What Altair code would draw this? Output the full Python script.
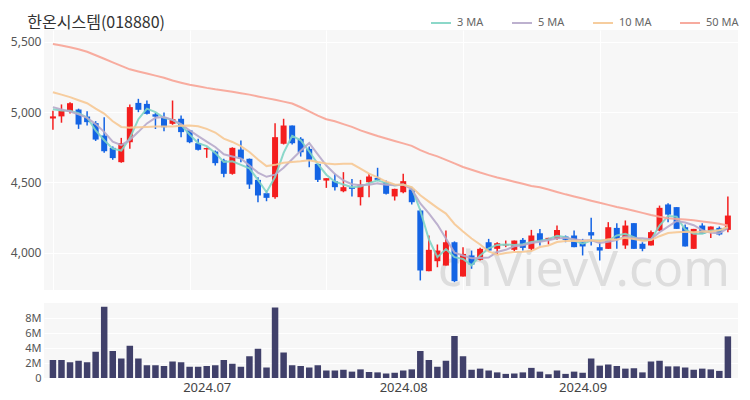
import altair as alt
import pandas as pd

# ---------------- data ----------------
opens = [4955, 4970, 5007, 5019, 4969, 4922, 4834, 4746, 4644, 4786,
         5066, 5059, 4985, 4962, 4917, 4953, 4870, 4779, 4735, 4720,
         4656, 4561, 4734, 4668, 4518, 4423, 4395, 4775, 4905, 4810,
         4739, 4632, 4513, 4509, 4437, 4466, 4395, 4501, 4532, 4502,
         4400, 4430, 4450, 4300, 3868, 3939, 3908, 4074, 3830, 3980,
         3949, 4074, 4027, 4051, 4020, 4091, 4027, 4138, 4091, 4098,
         4115, 4122, 4082, 4146, 4039, 4027, 4176, 4051, 4210, 4063,
         4051, 4157, 4343, 4324, 4181, 4027, 4193, 4157, 4176, 4162]
highs = [5010, 5055, 5071, 5025, 5007, 4936, 4964, 4756, 4817, 5055,
         5095, 5083, 4995, 4998, 5083, 4976, 4874, 4810, 4748, 4727,
         4668, 4750, 4798, 4670, 4537, 4442, 4922, 4953, 4905, 4822,
         4756, 4632, 4530, 4561, 4573, 4525, 4518, 4561, 4604, 4513,
         4455, 4561, 4454, 4312, 4122, 4058, 4157, 4080, 4039, 4015,
         4034, 4098, 4074, 4086, 4086, 4105, 4162, 4169, 4106, 4193,
         4122, 4157, 4098, 4248, 4074, 4217, 4210, 4229, 4210, 4074,
         4157, 4335, 4352, 4324, 4200, 4169, 4210, 4186, 4186, 4400]
lows = [4875, 4925, 4990, 4881, 4905, 4795, 4711, 4661, 4640, 4739,
        5000, 4983, 4880, 4865, 4910, 4822, 4779, 4727, 4675, 4620,
        4537, 4555, 4644, 4454, 4359, 4366, 4383, 4770, 4770, 4684,
        4608, 4502, 4461, 4442, 4430, 4400, 4336, 4395, 4509, 4414,
        4371, 4423, 4343, 3802, 3868, 3896, 3908, 3790, 3830, 3885,
        3944, 4008, 3991, 4039, 4010, 4015, 4015, 4051, 4058, 4091,
        4074, 4039, 3980, 4051, 3944, 4027, 4027, 4027, 4027, 4010,
        4051, 4153, 4217, 4169, 4044, 4027, 4134, 4105, 4122, 4146]
closes = [4970, 5010, 5064, 4912, 4929, 4805, 4722, 4673, 4779, 5036,
          5017, 4988, 4968, 4893, 4950, 4858, 4786, 4732, 4745, 4637,
          4561, 4746, 4668, 4485, 4407, 4390, 4822, 4905, 4779, 4715,
          4661, 4518, 4530, 4466, 4466, 4454, 4485, 4542, 4518, 4419,
          4454, 4509, 4359, 3873, 4020, 4015, 4074, 3797, 3991, 3915,
          4027, 4015, 4067, 4058, 4086, 4034, 4122, 4082, 4105, 4162,
          4091, 4039, 4044, 4122, 4015, 4181, 4098, 4193, 4027, 4027,
          4146, 4319, 4271, 4169, 4044, 4169, 4134, 4186, 4129, 4264]
volumes = [2400000, 2400000, 2100000, 2300000, 2100000, 3500000, 9500000, 3600000, 2600000, 4300000,
           2600000, 1700000, 1700000, 1600000, 2200000, 2100000, 1500000, 1500000, 1600000, 1700000,
           2400000, 1900000, 1500000, 2900000, 3900000, 1400000, 9400000, 3400000, 1700000, 1600000,
           1400000, 1700000, 1000000, 1000000, 1100000, 850000, 1150000, 800000, 750000, 600000,
           700000, 1000000, 1150000, 3600000, 2400000, 1500000, 2300000, 5600000, 2900000, 1100000,
           1250000, 1000000, 750000, 550000, 600000, 750000, 1350000, 850000, 500000, 1000000,
           550000, 850000, 700000, 2600000, 1650000, 1800000, 1600000, 1250000, 1300000, 750000,
           2200000, 2300000, 1550000, 1550000, 1400000, 1100000, 1250000, 1150000, 950000, 5550000]
ma3 = [5020, 5012, 5010, 4992, 4962, 4870, 4800, 4740, 4727, 4815,
       4950, 5025, 5000, 4960, 4945, 4910, 4840, 4780, 4758, 4710,
       4645, 4650, 4625, 4600, 4518, 4430, 4538, 4710, 4832, 4800,
       4720, 4632, 4555, 4505, 4485, 4465, 4470, 4495, 4515, 4495,
       4478, 4485, 4461, 4300, 4095, 3968, 4025, 3968, 3955, 3910,
       3980, 4030, 4055, 4058, 4055, 4060, 4075, 4085, 4095, 4120,
       4110, 4086, 4063, 4086, 4086, 4086, 4122, 4134, 4110, 4086,
       4091, 4193, 4260, 4255, 4165, 4134, 4134, 4157, 4157, 4181]
ma5 = [5036, 5020, 5005, 4985, 4960, 4915, 4860, 4790, 4765, 4803,
       4860, 4920, 4960, 4965, 4945, 4915, 4870, 4830, 4790, 4752,
       4700, 4685, 4670, 4620, 4570, 4540, 4555, 4605, 4665, 4725,
       4780, 4700, 4620, 4560, 4515, 4487, 4480, 4483, 4493, 4484,
       4480, 4485, 4452, 4350, 4280, 4200, 4100, 4000, 3980, 3960,
       3962, 3965, 4005, 4020, 4045, 4052, 4068, 4078, 4088, 4102,
       4105, 4095, 4086, 4088, 4068, 4078, 4090, 4115, 4104, 4102,
       4096, 4145, 4185, 4225, 4215, 4195, 4160, 4142, 4138, 4175]
ma10 = [5142, 5125, 5107, 5085, 5064, 5025, 4990, 4935, 4895, 4890,
        4893, 4895, 4898, 4898, 4898, 4903, 4905, 4900, 4881, 4855,
        4812, 4788, 4758, 4717, 4663, 4616, 4625, 4640, 4645, 4650,
        4658, 4645, 4635, 4630, 4632, 4632, 4598, 4562, 4536, 4506,
        4485, 4484, 4467, 4408, 4363, 4319, 4278, 4204, 4151, 4101,
        4058, 4009, 3985, 3998, 4005, 4006, 4011, 4040, 4051, 4076,
        4082, 4085, 4082, 4089, 4082, 4096, 4094, 4105, 4097, 4084,
        4089, 4117, 4140, 4145, 4148, 4146, 4150, 4149, 4159, 4183]
ma50 = [5486, 5475, 5462, 5448, 5430, 5405, 5380, 5355, 5330, 5305,
        5290, 5275, 5260, 5245, 5225, 5210, 5195, 5185, 5173, 5163,
        5155, 5145, 5135, 5125, 5112, 5100, 5088, 5075, 5062, 5035,
        5005, 4975, 4950, 4935, 4915, 4895, 4870, 4850, 4830, 4812,
        4795, 4778, 4760, 4730, 4705, 4685, 4660, 4635, 4610, 4590,
        4570, 4552, 4535, 4520, 4505, 4490, 4475, 4465, 4450, 4432,
        4415, 4400, 4385, 4370, 4355, 4340, 4325, 4312, 4298, 4283,
        4268, 4255, 4245, 4240, 4236, 4230, 4222, 4215, 4205, 4193]

tick_idx = [18, 41, 62]
tick_labels = ["2024.07", "2024.08", "2024.09"]
ma_names = ["3 MA", "5 MA", "10 MA", "50 MA"]
ma_colors = ["#80d4c4", "#b6a9ca", "#f6c894", "#f7a395"]
up_color = "#f41e1e"
down_color = "#1464e4"
vol_color = "#40406a"
title_text = "한온시스템(018880)"
watermark = "chVievV.com"

# ---------------- tables ----------------
n = len(closes)
df = pd.DataFrame({
    "i": list(range(n)), "open": opens, "high": highs, "low": lows,
    "close": closes, "volume": volumes,
})
df["dir"] = ["up" if c >= o else "down" for o, c in zip(opens, closes)]

ma_rows = []
for name, series in zip(ma_names, [ma3, ma5, ma10, ma50]):
    for k, v in enumerate(series):
        ma_rows.append({"i": k, "ma": name, "value": v})
ma_df = pd.DataFrame(ma_rows)

x_dom = [-0.46, 79.6]
FONT = "Noto Sans"

label_expr = "''"
for t, lab in zip(reversed(tick_idx), reversed(tick_labels)):
    label_expr = f"datum.value == {t} ? '{lab}' : ({label_expr})"

x_price = alt.X("i:Q", scale=alt.Scale(domain=x_dom, nice=False, zero=False),
                axis=alt.Axis(values=[0, 16, 32, 48, 64], labels=False, ticks=False,
                              domain=False, grid=True, gridColor="#ffffff", title=None))
y_scale = alt.Scale(domain=[3734, 5585], nice=False, zero=False)
y_axis = alt.Axis(values=[4000, 4500, 5000, 5500], labelExpr="format(datum.value, ',')",
                  labelFontSize=12, labelColor="#555555", labelFont=FONT, gridColor="#ffffff",
                  domain=False, ticks=False, title=None, labelPadding=3)
dir_color = alt.Color("dir:N", scale=alt.Scale(domain=["up", "down"], range=[up_color, down_color]),
                      legend=None)

wm = alt.Chart(pd.DataFrame({"t": [watermark]})).mark_text(
    fontSize=50, font=FONT, color="#c8c8c8", opacity=0.55, align="right", baseline="alphabetic"
).encode(text="t:N", x=alt.value(686), y=alt.value(256))

wicks = alt.Chart(df).mark_rule(strokeWidth=1.5).encode(
    x=x_price, y=alt.Y("low:Q", scale=y_scale, axis=y_axis), y2="high:Q", color=dir_color)
bodies = alt.Chart(df).mark_bar(size=6).encode(
    x=x_price, y=alt.Y("open:Q", scale=y_scale, axis=y_axis), y2="close:Q", color=dir_color)

lines = alt.Chart(ma_df).mark_line(strokeWidth=2, opacity=0.9).encode(
    x=x_price,
    y=alt.Y("value:Q", scale=y_scale, axis=y_axis),
    color=alt.Color("ma:N", scale=alt.Scale(domain=ma_names, range=ma_colors),
                    legend=alt.Legend(orient="none", legendX=386, legendY=-18,
                                      direction="horizontal", title=None,
                                      symbolType="stroke", symbolSize=400,
                                      symbolStrokeWidth=2, labelFontSize=11,
                                      labelFont=FONT, labelColor="#666666",
                                      columnPadding=24, labelOffset=5)),
    order="i:Q",
)

price = alt.layer(wm, wicks, bodies, lines).resolve_scale(color="independent").properties(
    width=694, height=260,
    title=alt.Title(title_text, anchor="start", fontSize=16, font="Noto Sans CJK KR",
                    fontWeight="normal", color="#333333", dx=17, offset=-19),
)

volume = alt.Chart(df).mark_bar(size=6.5, color=vol_color).encode(
    x=alt.X("i:Q", scale=alt.Scale(domain=x_dom, nice=False, zero=False),
            axis=alt.Axis(values=tick_idx, labelExpr=label_expr, grid=False, ticks=False,
                          domain=False, labelFontSize=13, labelFont=FONT,
                          labelColor="#444444", labelPadding=3, title=None)),
    y=alt.Y("volume:Q", scale=alt.Scale(domain=[0, 10000000], nice=False),
            axis=alt.Axis(values=[0, 2000000, 4000000, 6000000, 8000000],
                          labelExpr="datum.value == 0 ? '0' : (datum.value / 1000000) + 'M'",
                          labelFontSize=11, labelFont=FONT, labelColor="#555555",
                          gridColor="#ffffff", domain=False, ticks=False, title=None,
                          labelPadding=3)),
).properties(width=694, height=75)

chart = alt.vconcat(price, volume, spacing=7).properties(
    padding={"left": 2, "top": 4, "right": 0, "bottom": 2},
    background="#ffffff",
).configure_view(fill="#f7f7f7", strokeWidth=0)

chart.save("out.html", embed_options={"renderer": "svg", "actions": False})
